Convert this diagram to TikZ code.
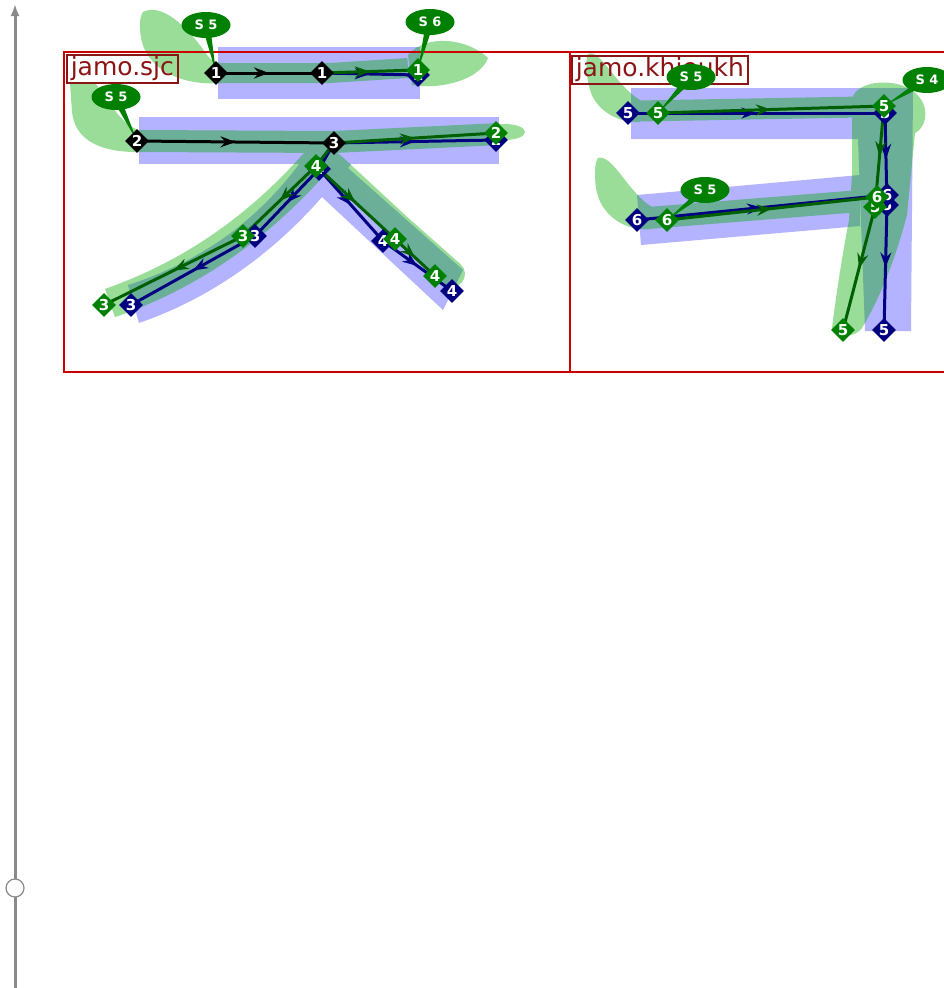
\documentclass[tikz,border=0pt]{standalone}
\usepackage{fontspec}
\setmainfont{DejaVu Sans}
\usetikzlibrary{arrows.meta,calc,shapes.geometric,decorations.markings}
\definecolor{framered}{HTML}{CC0000}
\definecolor{tagred}{HTML}{8B1414}
\definecolor{mkgreen}{HTML}{008000}
\definecolor{lngreen}{HTML}{005F00}
\definecolor{mknavy}{HTML}{000080}
\definecolor{bandblue}{RGB}{179,179,255}
\definecolor{bandgreen}{RGB}{0,170,0}
\definecolor{axisgray}{HTML}{8A8A8A}
\pgfdeclarelayer{bands}
\pgfdeclarelayer{lines}
\pgfsetlayers{bands,lines,main}
\tikzset{
  pt/.style={diamond, inner sep=0pt, minimum size=24pt, text=white,
    font=\fontsize{15}{15}\selectfont\bfseries},
  ptblack/.style={pt, fill=black},
  ptgreen/.style={pt, fill=mkgreen},
  ptnavy/.style={pt, fill=mknavy},
  pathline/.style={line width=3pt},
  blackline/.style={pathline, draw=black},
  greenline/.style={pathline, draw=lngreen},
  navyline/.style={pathline, draw=mknavy},
  midarrow/.style={postaction={decorate}, decoration={markings,
    mark=at position 0.5 with {\arrow{Stealth[length=15pt,width=11pt,inset=5pt]}}}},
  bubble/.style={ellipse, fill=mkgreen, text=white, inner sep=0pt,
    minimum width=49pt, minimum height=26pt, font=\fontsize{13}{13}\selectfont\bfseries},
  tag/.style={draw=tagred, line width=1.5pt, text=tagred, anchor=north west,
    inner xsep=4pt, inner ysep=2pt, font=\fontsize{25}{25}\selectfont},
  glyphframe/.style={draw=framered, line width=2.5pt},
  fitfill/.style={fill=bandgreen},
  fitband/.style={draw=bandgreen}
}
\begin{document}
\begin{tikzpicture}[x=1pt,y=-1pt]
\useasboundingbox (0,0) rectangle (943,988);

% timeline
\draw[axisgray, line width=3pt, -{Latex[length=12pt,width=9pt]}] (15,988) -- (15,4);
\node[circle, draw=axisgray, fill=white, line width=1.2pt, minimum size=18pt, inner sep=0pt] (knob) at (15,888) {};

\begin{pgfonlayer}{bands}
% reference strokes, sjc
\fill[bandblue] (218,47) rectangle (420,99);
\fill[bandblue] (139,117) rectangle (499,164);
\fill[bandblue] (300,163) .. controls (250,230) and (190,265) .. (128,285) -- (139,323)
  .. controls (220,295) and (280,245) .. (322,197) -- (443,310) -- (463,270) -- (348,168) -- (352,163) -- cycle;
% reference strokes, khieukh
\fill[bandblue] (631,88) -- (913,88) -- (911,331) -- (865,331) -- (858,139) -- (631,139) -- cycle;
\fill[bandblue] (637,195) -- (860,175) -- (860,226) -- (641,245) -- cycle;
% fitted strokes
\begin{scope}[transparency group, opacity=0.4]
\fill[fitfill] (143,12) .. controls (162,2) and (188,28) .. (205,52) .. controls (210,60) and (215,63) .. (222,63)
  -- (222,83) .. controls (185,86) and (150,72) .. (142,42) .. controls (139,30) and (139,18) .. (143,12) -- cycle;
\draw[fitband, line width=20pt] (218,73) -- (330,73) -- (408,68);
\fill[fitfill] (408,55) .. controls (428,32) and (470,40) .. (488,58) .. controls (480,80) and (440,90) .. (412,85) -- cycle;
\fill[fitfill] (70,84) -- (96,84) .. controls (110,105) and (125,128) .. (142,131) -- (142,152)
  .. controls (100,153) and (75,140) .. (72,112) -- cycle;
\draw[fitband, line width=22pt] (140,141) -- (334,142) -- (500,134);
\fill[fitfill] (505,132) ellipse [x radius=20, y radius=8];
\draw[fitband, line width=30pt] (328,148) .. controls (275,212) and (205,270) .. (110,303);
\draw[fitband, line width=26pt, line cap=round] (332,165) -- (400,228) -- (452,274);
\fill[fitfill] (588,54) .. controls (600,48) and (615,85) .. (640,100) -- (640,122)
  .. controls (615,123) and (595,108) .. (590,90) .. controls (586,75) and (585,62) .. (588,54) -- cycle;
\draw[fitband, line width=21pt] (638,111) -- (862,107);
\fill[fitfill] (852,100) .. controls (855,78) and (905,76) .. (920,98) .. controls (930,112) and (925,128) .. (915,133)
  -- (907,215) .. controls (895,260) and (880,298) .. (862,328) .. controls (855,338) and (838,338) .. (832,328)
  .. controls (838,280) and (846,235) .. (849,220) -- (852,175) -- cycle;
\fill[fitfill] (598,158) .. controls (612,153) and (630,195) .. (652,207) -- (652,229)
  .. controls (625,232) and (600,215) .. (596,188) .. controls (594,172) and (595,162) .. (598,158) -- cycle;
\draw[fitband, line width=22pt] (648,218) -- (860,201);
\end{scope}
% glyph frames
\draw[glyphframe] (64,52) rectangle (570,372);
\draw[glyphframe] (570,52) rectangle (960,372);
\node[tag] (tagsjc) at (66,54) {jamo.sjc};
\node[tag] (tagkh) at (571,55) {jamo.khieukh};
\end{pgfonlayer}

% points, sjc
\node[ptnavy] (n1c) at (418,75) {1};
\node[ptgreen] (g1c) at (418,70) {1};
\node[ptblack] (k1a) at (216,73) {1};
\node[ptblack] (k1b) at (322,73) {1};
\node[ptnavy] (n2c) at (496,140) {2};
\node[ptgreen] (g2c) at (496,133) {2};
\node[ptblack] (k2a) at (137,141) {2};
\node[ptnavy] (n4a) at (319,169) {4};
\node[ptgreen] (g4a) at (316,166) {4};
\node[ptblack] (k2b) at (334,143) {3};
\node[ptnavy] (n3b) at (255,236) {3};
\node[ptgreen] (g3b) at (243,236) {3};
\node[ptnavy] (n3c) at (131,305) {3};
\node[ptgreen] (g3c) at (104,305) {3};
\node[ptnavy] (n4b) at (383,241) {4};
\node[ptgreen] (g4b) at (395,239) {4};
\node[ptgreen] (g4c) at (435,276) {4};
\node[ptnavy] (n4c) at (452,291) {4};

% points, khieukh
\node[ptnavy] (n5a) at (628,113) {5};
\node[ptgreen] (g5a) at (658,113) {5};
\node[ptnavy] (n5b) at (885,113) {5};
\node[ptgreen] (g5b) at (884,106) {5};
\node[ptnavy] (n5c) at (887,205) {5};
\node[ptnavy] (n6b) at (887,195) {6};
\node[ptgreen] (g5c) at (875,207) {5};
\node[ptgreen] (g6b) at (877,197) {6};
\node[ptnavy] (n6a) at (637,220) {6};
\node[ptgreen] (g6a) at (667,220) {6};
\node[ptgreen] (g5d) at (843,330) {5};
\node[ptnavy] (n5d) at (884,330) {5};

% stroke labels
\node[bubble] (b1) at (206,25) {S 5};
\node[bubble] (b2) at (116,97) {S 5};
\node[bubble] (b3) at (430,22) {S 6};
\node[bubble] (b4) at (691,77) {S 5};
\node[bubble] (b5) at (705,190) {S 5};
\node[bubble] (b6) at (927,80) {S 4};

\begin{pgfonlayer}{lines}
% sjc
\draw[blackline, midarrow] (k1a.center) -- (k1b.center);
\draw[navyline, midarrow] (k1b.center) -- (n1c.center);
\draw[greenline, midarrow] (k1b.center) -- (g1c.center);
\draw[blackline, midarrow] (k2a.center) -- (k2b.center);
\draw[navyline, midarrow] (k2b.center) -- (n2c.center);
\draw[greenline, midarrow] (k2b.center) -- (g2c.center);
\draw[navyline] (k2b.center) -- (n4a.center);
\draw[greenline] (k2b.center) -- (g4a.center);
\draw[navyline, midarrow] (n4a.center) -- (n3b.center);
\draw[navyline, midarrow] (n3b.center) -- (n3c.center);
\draw[greenline, midarrow] (g4a.center) -- (g3b.center);
\draw[greenline, midarrow] (g3b.center) -- (g3c.center);
\draw[navyline, midarrow] (n4a.center) -- (n4b.center);
\draw[navyline, midarrow] (n4b.center) -- (n4c.center);
\draw[greenline, midarrow] (g4a.center) -- (g4b.center);
\draw[greenline, midarrow] (g4b.center) -- (g4c.center);
% khieukh
\draw[navyline, midarrow] (n5a.center) -- (n5b.center);
\draw[greenline, midarrow] (g5a.center) -- (g5b.center);
\draw[navyline, midarrow] (n5b.center) -- (n5c.center);
\draw[greenline, midarrow] (g5b.center) -- (g5c.center);
\draw[navyline, midarrow] (n5c.center) -- (n5d.center);
\draw[greenline, midarrow] (g5c.center) -- (g5d.center);
\draw[navyline, midarrow] (n6a.center) -- (n6b.center);
\draw[greenline, midarrow] (g6a.center) -- (g6b.center);
% label pointers
\foreach \b/\m in {b1/k1a, b2/k2a, b3/g1c, b4/g5a, b5/g6a, b6/g5b}
  \fill[mkgreen] ($(\b.center)!4pt!90:(\m.center)$) -- (\m.center) -- ($(\b.center)!4pt!-90:(\m.center)$) -- cycle;
\end{pgfonlayer}
\end{tikzpicture}
\end{document}
